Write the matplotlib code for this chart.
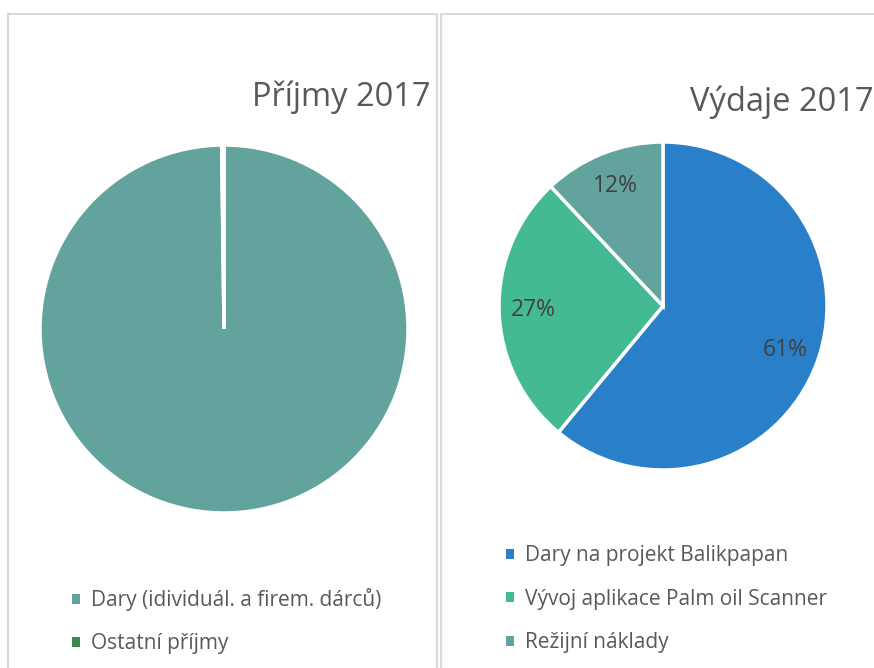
import matplotlib
matplotlib.use("Agg")
import matplotlib.pyplot as plt
from matplotlib.patches import Rectangle, Patch

plt.rcParams['font.family'] = ['Open Sans', 'DejaVu Sans']

# Data
income_title = "Příjmy 2017"
income_labels = ["Dary (idividuál. a firem. dárců)", "Ostatní příjmy"]
income_values = [99.8, 0.2]
income_colors = ["#62A39D", "#3A8A50"]

expense_title = "Výdaje 2017"
expense_labels = ["Dary na projekt Balikpapan", "Vývoj aplikace Palm oil Scanner", "Režijní náklady"]
expense_values = [61, 27, 12]
expense_colors = ["#2A80C8", "#43B994", "#62A39D"]

W, H = 874, 668
fig = plt.figure(figsize=(W / 100, H / 100), dpi=100)
fig.patch.set_facecolor("white")

def px_axes(cx, cy, r):
    return fig.add_axes([(cx - r) / W, (H - cy - r) / H, 2 * r / W, 2 * r / H])

txt = "#595959"
border = "#D9D9D9"

# Panel borders
fig.patches.append(Rectangle((8 / W, -0.1), (437 - 8) / W, (H - 14) / H + 0.1,
                             transform=fig.transFigure, fill=False, ec=border, lw=1.5))
fig.patches.append(Rectangle((441 / W, -0.1), 0.6, (H - 14) / H + 0.1,
                             transform=fig.transFigure, fill=False, ec=border, lw=1.5))

# Left pie
ax1 = px_axes(224, 329, 184)
ax1.pie(income_values, colors=income_colors, startangle=90, counterclock=False,
        wedgeprops=dict(edgecolor="white", linewidth=2.5))
ax1.set_xlim(-1.0, 1.0); ax1.set_ylim(-1.0, 1.0); ax1.set_aspect("equal"); ax1.axis("off")

# Right pie
ax2 = px_axes(663, 306, 164)
ax2.pie(expense_values, colors=expense_colors, startangle=90, counterclock=False,
        autopct="%1.0f%%", pctdistance=0.79,
        wedgeprops=dict(edgecolor="white", linewidth=2.5),
        textprops=dict(color="#404040", fontsize=16.5))
ax2.set_xlim(-1.0, 1.0); ax2.set_ylim(-1.0, 1.0); ax2.set_aspect("equal"); ax2.axis("off")

# Titles
fig.text(430 / W, 1 - 97 / H, income_title, ha="right", va="center", fontsize=23.5, color=txt)
fig.text(690 / W, 1 - 102 / H, expense_title, ha="left", va="center", fontsize=23.5, color=txt)

# Legends
leg_kw = dict(frameon=False, fontsize=15, labelcolor=txt, handlelength=0.36, handleheight=0.36,
              handletextpad=0.55, labelspacing=1.08, borderpad=0, borderaxespad=0)
h1 = [Patch(facecolor=c, edgecolor="none") for c in income_colors]
h2 = [Patch(facecolor=c, edgecolor="none") for c in expense_colors]
fig.legend(h1, income_labels, loc="upper left", bbox_to_anchor=(72 / W, 1 - 588 / H), **leg_kw)
fig.legend(h2, expense_labels, loc="upper left", bbox_to_anchor=(506 / W, 1 - 545 / H), **leg_kw)

fig.savefig("out.png", dpi=100, facecolor="white")
